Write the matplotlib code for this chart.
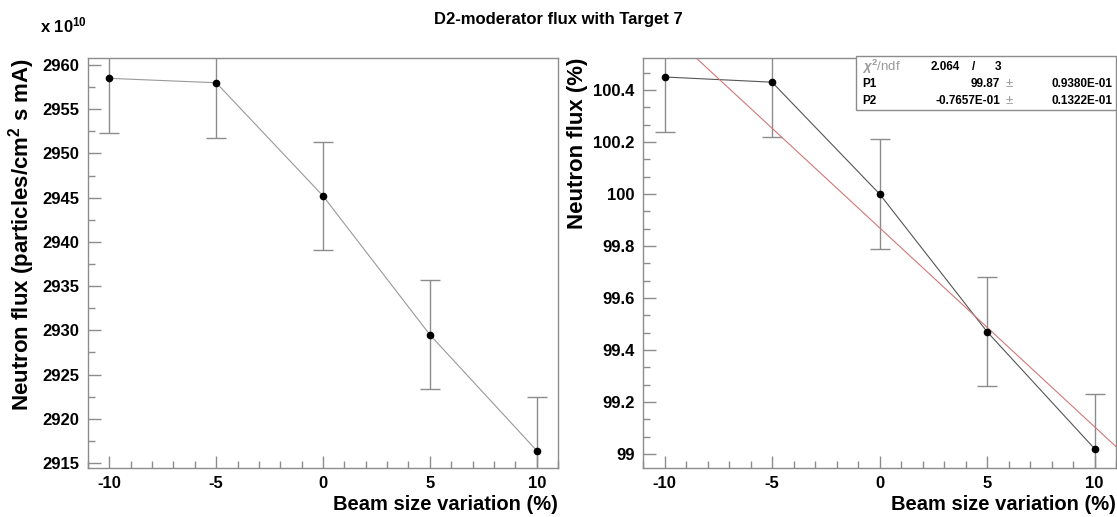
import numpy as np
import matplotlib
matplotlib.use('Agg')
import matplotlib.pyplot as plt
from matplotlib.ticker import MultipleLocator
from matplotlib.patches import Rectangle

plt.rcParams['font.family'] = ['Liberation Sans', 'DejaVu Sans']
plt.rcParams['font.weight'] = 'bold'
plt.rcParams['axes.unicode_minus'] = False
plt.rcParams['mathtext.fontset'] = 'custom'
plt.rcParams['mathtext.rm'] = 'Liberation Sans:bold'
plt.rcParams['mathtext.bf'] = 'Liberation Sans:bold'
plt.rcParams['mathtext.it'] = 'Liberation Sans:italic'
plt.rcParams['mathtext.default'] = 'bf'

# data
beam = [-10, -5, 0, 5, 10]
flux = [2958.5, 2958.0, 2945.2, 2929.5, 2916.4]
flux_err = [6.2, 6.2, 6.15, 6.15, 6.1]
pct = [100.45, 100.43, 100.0, 99.47, 99.02]
pct_err = [0.21, 0.21, 0.21, 0.21, 0.21]

# linear fit result shown in the stats box
p1, p1_err = 99.87, 0.09380
p2, p2_err = -0.07657, 0.01322
chi2, ndf = 2.064, 3

title = 'D2-moderator flux with Target 7'
xlab = 'Beam size variation (%)'

gray = '#8c8c8c'
fig = plt.figure(figsize=(11.17, 5.17), dpi=100)
ax1 = fig.add_axes([0.0788, 0.0948, 0.4208, 0.793])
ax2 = fig.add_axes([0.5757, 0.0948, 0.4235, 0.793])


def style(ax):
    for s in ['left', 'bottom', 'top', 'right']:
        ax.spines[s].set_color(gray)
        ax.spines[s].set_linewidth(1.0)
    ax.tick_params(which='both', direction='in', color=gray, width=1,
                   top=False, right=False, labelsize=12, pad=6)
    ax.tick_params(which='major', length=9)
    ax.tick_params(which='minor', length=5)
    ax.set_xlim(-11, 11)
    ax.xaxis.set_major_locator(MultipleLocator(5))
    ax.xaxis.set_minor_locator(MultipleLocator(1))
    ax.set_xlabel(xlab, fontsize=14.5, fontweight='bold', loc='right', labelpad=3)
    for lab in ax.get_xticklabels() + ax.get_yticklabels():
        lab.set_fontweight('bold')


ax1.errorbar(beam, flux, yerr=flux_err, fmt='none', ecolor=gray,
             elinewidth=1, capsize=7, capthick=1)
ax1.plot(beam, flux, '-', color='#999999', lw=0.8)
ax1.plot(beam, flux, 'o', color='black', ms=4.5)
ax1.set_ylim(2914.43, 2960.8)
ax1.yaxis.set_major_locator(MultipleLocator(5))
ax1.yaxis.set_minor_locator(MultipleLocator(2.5))
style(ax1)
ax1.set_ylabel('Neutron flux (particles/cm$^{2}$ s mA)', fontsize=16,
               fontweight='bold', loc='top')

ax2.errorbar(beam, pct, yerr=pct_err, fmt='none', ecolor=gray,
             elinewidth=1, capsize=7, capthick=1)
ax2.plot(beam, pct, '-', color='#555555', lw=0.8)
ax2.axline((0, p1), slope=p2, color='#d07878', lw=0.8)
ax2.plot(beam, pct, 'o', color='black', ms=4.5)
ax2.set_ylim(98.946, 100.523)
ax2.yaxis.set_minor_locator(MultipleLocator(0.2 / 3))
ax2.set_yticks([99, 99.2, 99.4, 99.6, 99.8, 100, 100.2, 100.4])
ax2.set_yticklabels(['99', '99.2', '99.4', '99.6', '99.8', '100', '100.2', '100.4'])
style(ax2)
ax2.set_ylabel('Neutron flux (%)', fontsize=16, fontweight='bold', loc='top')

fig.text(0.5, 0.962, title, ha='center', va='center', fontsize=12, fontweight='bold')
fig.text(0.036, 0.950, 'x 10$^{10}$', ha='left', va='center', fontsize=12, fontweight='bold')

# stats box
box = Rectangle((0.7663, 0.7872), 0.2328, 0.1045, transform=fig.transFigure,
                facecolor='white', edgecolor=gray, lw=1, zorder=5)
fig.patches.append(box)
rows = [0.8704, 0.8375, 0.8046]
fs = 8.5
fig.text(0.7717, rows[0], '$\\mathit{\\chi}^{2}$/ndf', color='#999999', fontsize=fs + 1,
         fontweight='normal', va='center', zorder=6)
fig.text(0.8594, rows[0], '%.3f' % chi2, fontsize=fs, va='center', ha='right', zorder=6)
fig.text(0.8711, rows[0], '/', fontsize=fs, va='center', ha='center', zorder=6)
fig.text(0.8935, rows[0], '%d' % ndf, fontsize=fs, va='center', ha='center', zorder=6)
fig.text(0.7717, rows[1], 'P1', fontsize=fs, va='center', zorder=6)
fig.text(0.7717, rows[2], 'P2', fontsize=fs, va='center', zorder=6)
fig.text(0.8953, rows[1], '%.2f' % p1, fontsize=fs, va='center', ha='right', zorder=6)
fig.text(0.8953, rows[2], '-0.7657E-01', fontsize=fs, va='center', ha='right', zorder=6)
for r in rows[1:]:
    fig.text(0.9035, r, '\u00b1', fontsize=fs + 1, va='center', ha='center',
             color='#999999', fontweight='normal', zorder=6)
fig.text(0.9964, rows[1], '0.9380E-01', fontsize=fs, va='center', ha='right', zorder=6)
fig.text(0.9964, rows[2], '0.1322E-01', fontsize=fs, va='center', ha='right', zorder=6)

fig.savefig('out.png', dpi=100)
